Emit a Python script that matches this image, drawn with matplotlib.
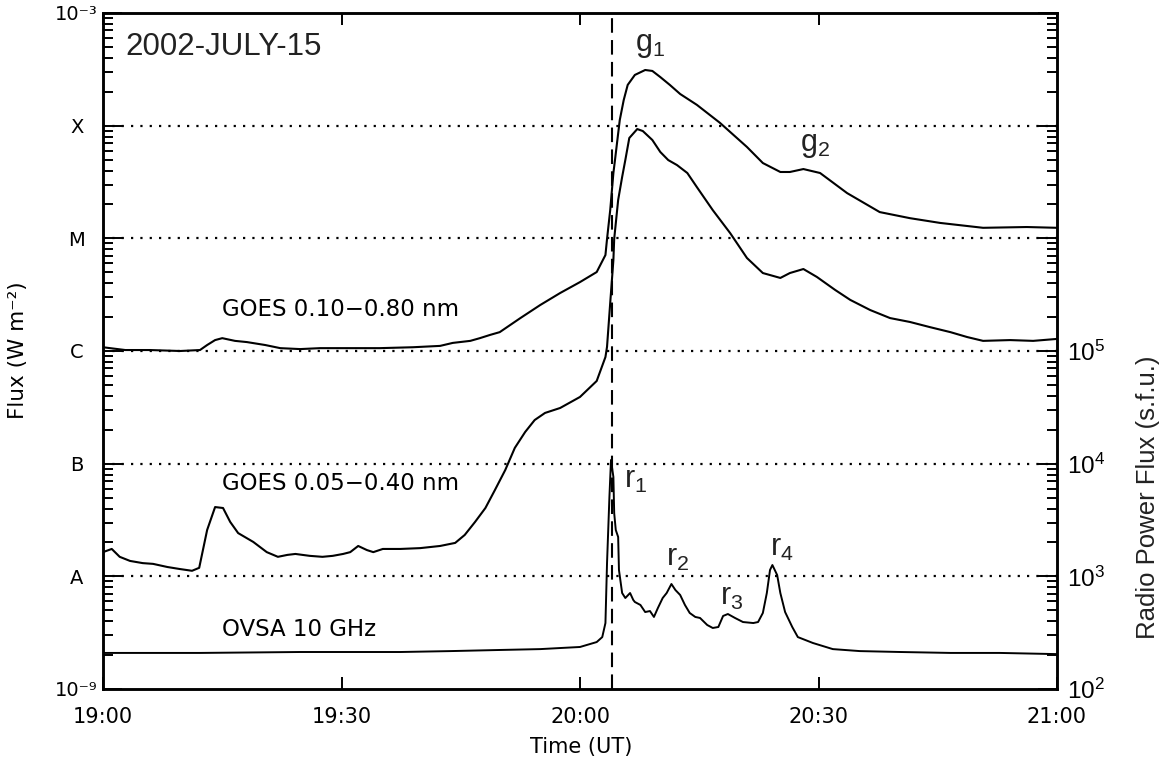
import matplotlib
matplotlib.use('Agg')
import matplotlib.pyplot as plt
import numpy as np
from matplotlib.ticker import FixedLocator, FixedFormatter, LogLocator, NullFormatter, NullLocator

plt.rcParams['mathtext.fontset'] = 'custom'
plt.rcParams['mathtext.rm'] = 'Liberation Sans'
plt.rcParams['mathtext.it'] = 'Liberation Sans:italic'
plt.rcParams['mathtext.bf'] = 'Liberation Sans:bold'
plt.rcParams['font.family'] = ['DejaVu Sans']

# ---------------- data (minutes after 19:00 UT) ----------------
goes_long_t = [0, 0.9, 2.8, 5.9, 9.7, 12.2, 13.1, 14.1, 15.0, 16.6,
               18.1, 20.4, 22.3, 24.8, 27.3, 30.7, 34.8, 39.0, 42.4, 44.0,
               46.2, 47.4, 48.7, 49.9, 52.5, 55.0, 57.5, 60.0, 62.1, 63.2,
               63.4, 63.8, 64.2, 64.4, 65.0, 65.5, 66.0, 66.9, 68.2, 69.1,
               70.1, 71.3, 72.6, 74.7, 77.6, 81.0, 83.0, 85.2, 86.4, 88.1,
               90.2, 93.6, 97.7, 101.5, 105.3, 110.7, 116.2, 120.0]
goes_long_flux = [1.08e-6, 1.06e-6, 1.02e-6, 1.02e-6, 1.00e-6, 1.02e-6, 1.13e-6, 1.25e-6, 1.30e-6, 1.23e-6,
                  1.20e-6, 1.13e-6, 1.06e-6, 1.04e-6, 1.06e-6, 1.06e-6, 1.06e-6, 1.08e-6, 1.11e-6, 1.18e-6,
                  1.23e-6, 1.30e-6, 1.39e-6, 1.47e-6, 1.96e-6, 2.56e-6, 3.27e-6, 4.09e-6, 5.02e-6, 7.11e-6,
                  9.86e-6, 1.78e-5, 3.80e-5, 4.95e-5, 1.12e-4, 1.69e-4, 2.30e-4, 2.82e-4, 3.12e-4, 3.06e-4,
                  2.70e-4, 2.30e-4, 1.91e-4, 1.53e-4, 1.06e-4, 6.47e-5, 4.66e-5, 3.88e-5, 3.88e-5, 4.12e-5,
                  3.80e-5, 2.52e-5, 1.71e-5, 1.51e-5, 1.37e-5, 1.24e-5, 1.26e-5, 1.24e-5]

goes_short_t = [0.0, 1.1, 2.1, 3.4, 5.0, 6.3, 8.1, 9.7, 11.2, 12.1,
                13.1, 14.1, 15.1, 16.0, 17.0, 18.9, 20.6, 22.0, 23.2, 24.2,
                26.0, 27.6, 28.9, 30.2, 31.1, 32.1, 33.2, 34.0, 35.2, 37.4,
                39.9, 42.4, 44.3, 45.5, 46.8, 48.1, 49.3, 50.6, 51.8, 53.1,
                54.3, 55.6, 57.5, 60.0, 62.1, 63.2, 63.4, 63.8, 64.2, 64.3,
                64.8, 65.3, 65.7, 66.2, 67.2, 67.9, 69.1, 70.1, 71.1, 72.2,
                73.5, 74.7, 76.7, 78.9, 81.0, 83.0, 85.2, 86.4, 88.1, 89.8,
                92.1, 94.0, 96.5, 99.0, 101.5, 104.0, 106.6, 108.7, 110.7, 114.1,
                117.0, 120.0]
goes_short_flux = [1.64e-8, 1.75e-8, 1.49e-8, 1.37e-8, 1.31e-8, 1.29e-8, 1.21e-8, 1.16e-8, 1.12e-8, 1.19e-8,
                   2.58e-8, 4.12e-8, 4.04e-8, 3.04e-8, 2.42e-8, 2.02e-8, 1.64e-8, 1.49e-8, 1.55e-8, 1.58e-8,
                   1.52e-8, 1.49e-8, 1.52e-8, 1.58e-8, 1.64e-8, 1.86e-8, 1.71e-8, 1.64e-8, 1.75e-8, 1.75e-8,
                   1.78e-8, 1.86e-8, 1.98e-8, 2.33e-8, 3.04e-8, 4.04e-8, 5.84e-8, 8.79e-8, 1.38e-7, 1.91e-7,
                   2.44e-7, 2.82e-7, 3.12e-7, 3.91e-7, 5.42e-7, 8.84e-7, 1.09e-6, 2.67e-6, 6.42e-6, 9.86e-6,
                   2.19e-5, 3.50e-5, 4.95e-5, 7.77e-5, 9.33e-5, 8.96e-5, 7.46e-5, 5.84e-5, 4.95e-5, 4.47e-5,
                   3.80e-5, 2.85e-5, 1.78e-5, 1.11e-5, 6.69e-6, 4.92e-6, 4.45e-6, 4.92e-6, 5.34e-6, 4.54e-6,
                   3.48e-6, 2.84e-6, 2.31e-6, 1.96e-6, 1.81e-6, 1.63e-6, 1.47e-6, 1.33e-6, 1.23e-6, 1.25e-6,
                   1.23e-6, 1.28e-6]

ovsa_t = [0, 12.2, 24.8, 37.4, 43.7, 49.9, 55.0, 57.5, 60.0, 62.1,
          62.8, 63.2, 63.4, 63.7, 63.9, 64.2, 64.3, 64.5, 64.8, 64.9,
          65.3, 65.7, 66.3, 66.7, 66.9, 67.6, 68.2, 68.8, 69.3, 69.8,
          70.4, 70.9, 71.5, 72.0, 72.6, 73.2, 73.8, 74.5, 75.1, 76.0,
          76.7, 77.4, 78.0, 78.6, 79.5, 80.5, 81.8, 82.4, 83.0, 83.5,
          83.9, 84.2, 84.8, 85.2, 85.8, 86.7, 87.4, 89.3, 91.8, 95.2,
          100.3, 106.6, 112.8, 120.0]
ovsa_sfu = [209, 209, 213, 213, 217, 222, 226, 231, 236, 261,
            289, 385, 1313, 5058, 10780, 7614, 3648, 2578, 2234, 1138,
            711, 642, 711, 617, 592, 557, 482, 492, 436, 524,
            642, 711, 855, 756, 683, 557, 473, 436, 427, 370,
            348, 355, 445, 463, 427, 393, 385, 393, 473, 711,
            1138, 1260, 1027, 711, 482, 355, 289, 256, 226, 217,
            213, 209, 209, 204]

time_ticks = [0, 30, 60, 90, 120]
time_labels = ['19:00', '19:30', '20:00', '20:30', '21:00']
class_levels = [1e-8, 1e-7, 1e-6, 1e-5, 1e-4]
class_labels = ['A', 'B', 'C', 'M', 'X']
flux_range = [1e-9, 1e-3]
radio_range = [1e2, 1e8]
radio_label_ticks = [1e2, 1e3, 1e4, 1e5]
peak_time = 64.0

# ---------------- figure ----------------
W, H = 1164, 766
fig = plt.figure(figsize=(W / 100, H / 100), dpi=100)
ax = fig.add_axes([103 / W, (H - 689) / H, 954 / W, 676 / H])
ax2 = ax.twinx()

lw = 1.5
ax.plot(goes_long_t, goes_long_flux, color='black', lw=lw, zorder=3)
ax.plot(goes_short_t, goes_short_flux, color='black', lw=lw, zorder=3)
ax2.plot(ovsa_t, ovsa_sfu, color='black', lw=1.4, zorder=3)

for lev in class_levels:
    ax.axhline(lev, color='black', lw=1.6, linestyle=(0, (1, 3.2)), zorder=1)
ax.axvline(peak_time, color='black', lw=1.5, linestyle=(0, (7, 3.5)), zorder=2)

ax.set_xlim(0, 120)
ax.set_yscale('log')
ax.set_ylim(*flux_range)
ax2.set_yscale('log')
ax2.set_ylim(*radio_range)

# x axis
ax.xaxis.set_major_locator(FixedLocator(time_ticks))
ax.xaxis.set_major_formatter(FixedFormatter(time_labels))
ax.xaxis.set_minor_locator(NullLocator())
ax.tick_params(axis='x', which='major', direction='in', length=8.6, width=1.4,
               top=True, bottom=True, labelsize=15, pad=13)

# left y axis
left_ticks = [flux_range[0]] + class_levels + [flux_range[1]]
left_labels = ['10\u207b\u2079'] + class_labels + ['10\u207b\u00b3']
ax.yaxis.set_major_locator(FixedLocator(left_ticks))
ax.yaxis.set_major_formatter(FixedFormatter(left_labels))
ax.yaxis.set_minor_locator(LogLocator(base=10, subs=np.arange(2, 10), numticks=100))
ax.yaxis.set_minor_formatter(NullFormatter())
ax.tick_params(axis='y', which='major', direction='in', length=14, width=1.4,
               labelsize=14, pad=19)
ax.tick_params(axis='y', which='minor', direction='in', length=7.5, width=1.4)
for lab in ax.get_yticklabels():
    lab.set_horizontalalignment('center')

# right y axis
ax2.yaxis.set_major_locator(LogLocator(base=10, numticks=100))
ax2.yaxis.set_minor_locator(LogLocator(base=10, subs=np.arange(2, 10), numticks=100))
ax2.yaxis.set_minor_formatter(NullFormatter())
ax2.yaxis.set_major_formatter(matplotlib.ticker.FuncFormatter(
    lambda v, p: (r'$10^{%d}$' % round(np.log10(v))) if v in radio_label_ticks else ''))
ax2.tick_params(axis='y', which='major', direction='in', length=14, width=1.4,
                labelsize=17.5, pad=7)
ax2.tick_params(axis='y', which='minor', direction='in', length=7.5, width=1.4)

for a in (ax, ax2):
    for s in a.spines.values():
        s.set_linewidth(1.8)

# labels
fig.text(18 / W, (H - 350) / H, 'Flux (W m\u207b\u00b2)', rotation=90, ha='center', va='center',
         fontsize=15.5)
fig.text(1148 / W, (H - 497) / H, 'Radio Power Flux (s.f.u.)', rotation=90, ha='center', va='center',
         fontsize=18.5, family='Liberation Sans', color='#222222')
fig.text(581 / W, (H - 747) / H, 'Time (UT)', ha='center', va='center', fontsize=15)

# annotations
ax.text(0.023, 0.950, '2002-JULY-15', transform=ax.transAxes, ha='left', va='center',
        fontsize=22.5, family='Liberation Sans', color='#222222')
ann = [(0.573, 0.953, r'g$_1$'), (0.746, 0.805, r'g$_2$'),
       (0.558, 0.309, r'r$_1$'), (0.602, 0.194, r'r$_2$'),
       (0.659, 0.136, r'r$_3$'), (0.712, 0.209, r'r$_4$')]
for xa, ya, s in ann:
    ax.text(xa, ya, s, transform=ax.transAxes, ha='center', va='center',
            fontsize=22, family='Liberation Sans', color='#222222')

ax.text(0.1247, 0.5607, 'GOES 0.10\u22120.80 nm', transform=ax.transAxes, ha='left', va='center', fontsize=16.5)
ax.text(0.1247, 0.3047, 'GOES 0.05\u22120.40 nm', transform=ax.transAxes, ha='left', va='center', fontsize=16.5)
ax.text(0.1247, 0.0873, 'OVSA 10 GHz', transform=ax.transAxes, ha='left', va='center', fontsize=16.5)

fig.savefig('out.png', dpi=100)
